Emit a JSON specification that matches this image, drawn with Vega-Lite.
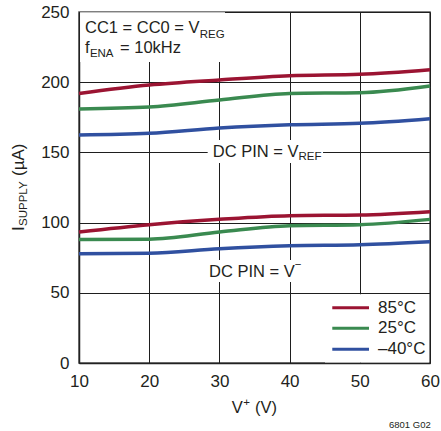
{
  "$schema": "https://vega.github.io/schema/vega-lite/v6.json",
  "width": 351,
  "height": 351,
  "autosize": {"type": "none"},
  "padding": {"left": 79, "top": 12, "right": 11, "bottom": 68},
  "background": "white",
  "config": {
    "view": {"stroke": "#555", "strokeWidth": 1.5},
    "font": "Liberation Sans",
    "axis": {
      "grid": true, "gridColor": "#1e1e1e", "gridWidth": 1, "gridOpacity": 1,
      "domain": true, "domainColor": "#222", "domainWidth": 1.5,
      "ticks": false, "labelFont": "Liberation Sans", "labelFontSize": 17,
      "labelColor": "#231f20", "labelFlush": false, "title": null
    },
    "text": {"font": "Liberation Sans", "color": "#231f20"}
  },
  "datasets": {
    "curves": [
      {"v": 10, "i": 192.0, "temp": "85°C", "pin": "REF"},
      {"v": 20, "i": 198.0, "temp": "85°C", "pin": "REF"},
      {"v": 30, "i": 201.6, "temp": "85°C", "pin": "REF"},
      {"v": 40, "i": 204.6, "temp": "85°C", "pin": "REF"},
      {"v": 50, "i": 205.6, "temp": "85°C", "pin": "REF"},
      {"v": 60, "i": 208.9, "temp": "85°C", "pin": "REF"},
      {"v": 10, "i": 181.0, "temp": "25°C", "pin": "REF"},
      {"v": 20, "i": 182.3, "temp": "25°C", "pin": "REF"},
      {"v": 30, "i": 187.3, "temp": "25°C", "pin": "REF"},
      {"v": 40, "i": 192.0, "temp": "25°C", "pin": "REF"},
      {"v": 50, "i": 192.5, "temp": "25°C", "pin": "REF"},
      {"v": 60, "i": 197.3, "temp": "25°C", "pin": "REF"},
      {"v": 10, "i": 162.4, "temp": "–40°C", "pin": "REF"},
      {"v": 20, "i": 163.6, "temp": "–40°C", "pin": "REF"},
      {"v": 30, "i": 167.4, "temp": "–40°C", "pin": "REF"},
      {"v": 40, "i": 169.7, "temp": "–40°C", "pin": "REF"},
      {"v": 50, "i": 170.7, "temp": "–40°C", "pin": "REF"},
      {"v": 60, "i": 174.0, "temp": "–40°C", "pin": "REF"},
      {"v": 10, "i": 93.3, "temp": "85°C", "pin": "VM"},
      {"v": 20, "i": 98.5, "temp": "85°C", "pin": "VM"},
      {"v": 30, "i": 102.3, "temp": "85°C", "pin": "VM"},
      {"v": 40, "i": 104.9, "temp": "85°C", "pin": "VM"},
      {"v": 50, "i": 105.4, "temp": "85°C", "pin": "VM"},
      {"v": 60, "i": 107.8, "temp": "85°C", "pin": "VM"},
      {"v": 10, "i": 88.0, "temp": "25°C", "pin": "VM"},
      {"v": 20, "i": 88.2, "temp": "25°C", "pin": "VM"},
      {"v": 30, "i": 93.3, "temp": "25°C", "pin": "VM"},
      {"v": 40, "i": 97.8, "temp": "25°C", "pin": "VM"},
      {"v": 50, "i": 98.5, "temp": "25°C", "pin": "VM"},
      {"v": 60, "i": 102.3, "temp": "25°C", "pin": "VM"},
      {"v": 10, "i": 77.8, "temp": "–40°C", "pin": "VM"},
      {"v": 20, "i": 78.1, "temp": "–40°C", "pin": "VM"},
      {"v": 30, "i": 81.4, "temp": "–40°C", "pin": "VM"},
      {"v": 40, "i": 83.5, "temp": "–40°C", "pin": "VM"},
      {"v": 50, "i": 84.2, "temp": "–40°C", "pin": "VM"},
      {"v": 60, "i": 86.3, "temp": "–40°C", "pin": "VM"}
    ],
    "boxes": [
      {"x": 10.15, "x2": 30.8, "y": 214.4, "y2": 249.8},
      {"x": 28.33, "x2": 44.76, "y": 142.45, "y2": 158.8},
      {"x": 27.95, "x2": 42.19, "y": 57.7, "y2": 73.4},
      {"x": 45.04, "x2": 59.85, "y": 0.4, "y2": 48.9}
    ],
    "legend": [
      {"temp": "85°C", "y": 39.4},
      {"temp": "25°C", "y": 24.7},
      {"temp": "–40°C", "y": 9.76}
    ],
    "mainText": [
      {"x": 10.85, "y": 234.8, "t": "CC1 = CC0 = V"},
      {"x": 10.85, "y": 220.6, "t": "f"},
      {"x": 15.84, "y": 220.6, "t": "= 10kHz"},
      {"x": 29.05, "y": 146.9, "t": "DC PIN = V"},
      {"x": 28.52, "y": 61.5, "t": "DC PIN = V"},
      {"x": 31.75, "y": -35.8, "t": "V"},
      {"x": 35.07, "y": -35.8, "t": "(V)"}
    ],
    "subText": [
      {"x": 27.2, "y": 231.8, "t": "REG"},
      {"x": 11.55, "y": 217.6, "t": "ENA"},
      {"x": 41.27, "y": 144.6, "t": "REF"},
      {"x": 33.4, "y": -30.4, "t": "+"},
      {"x": 40.75, "y": 67.7, "t": "−"}
    ],
    "rotMain": [
      {"x": 2.17, "y": 94.0, "t": "I"},
      {"x": 2.17, "y": 133.2, "t": "(µA)"}
    ],
    "rotSub": [
      {"x": 2.66, "y": 97.6, "t": "SUPPLY"}
    ],
    "foot": [
      {"x": 60.1, "y": -46.6, "t": "6801 G02"}
    ]
  },
  "layer": [
    {
      "data": {"name": "boxes"},
      "mark": {"type": "rect", "fill": "white", "stroke": null},
      "encoding": {
        "x": {"field": "x", "type": "quantitative", "scale": {"domain": [10, 60], "nice": false, "zero": false},
              "axis": {"values": [10, 20, 30, 40, 50, 60], "labelPadding": 10}},
        "x2": {"field": "x2"},
        "y": {"field": "y", "type": "quantitative", "scale": {"domain": [0, 250], "nice": false, "zero": false},
              "axis": {"values": [0, 50, 100, 150, 200, 250], "labelPadding": 10}},
        "y2": {"field": "y2"}
      }
    },
    {
      "data": {"name": "curves"},
      "mark": {"type": "line", "interpolate": "monotone", "strokeWidth": 3.5},
      "encoding": {
        "x": {"field": "v", "type": "quantitative"},
        "y": {"field": "i", "type": "quantitative"},
        "color": {"field": "temp", "type": "nominal",
                  "scale": {"domain": ["85°C", "25°C", "–40°C"], "range": ["#9b1432", "#3a8a50", "#3050a0"]},
                  "legend": null},
        "detail": {"field": "pin"}
      }
    },
    {
      "data": {"name": "legend"},
      "mark": {"type": "rule", "strokeWidth": 3},
      "encoding": {
        "x": {"datum": 46.08},
        "x2": {"datum": 51.31},
        "y": {"field": "y", "type": "quantitative"},
        "color": {"field": "temp", "type": "nominal"}
      }
    },
    {
      "data": {"name": "legend"},
      "mark": {"type": "text", "fontSize": 17, "align": "left", "baseline": "middle"},
      "encoding": {
        "x": {"datum": 52.59},
        "y": {"field": "y", "type": "quantitative"},
        "text": {"field": "temp"}
      }
    },
    {
      "data": {"name": "mainText"},
      "mark": {"type": "text", "fontSize": 16.5, "align": "left", "baseline": "alphabetic"},
      "encoding": {
        "x": {"field": "x", "type": "quantitative"},
        "y": {"field": "y", "type": "quantitative"},
        "text": {"field": "t"}
      }
    },
    {
      "data": {"name": "subText"},
      "mark": {"type": "text", "fontSize": 11.5, "align": "left", "baseline": "alphabetic"},
      "encoding": {
        "x": {"field": "x", "type": "quantitative"},
        "y": {"field": "y", "type": "quantitative"},
        "text": {"field": "t"}
      }
    },
    {
      "data": {"name": "rotMain"},
      "mark": {"type": "text", "fontSize": 17, "align": "left", "baseline": "alphabetic", "angle": 270},
      "encoding": {
        "x": {"field": "x", "type": "quantitative"},
        "y": {"field": "y", "type": "quantitative"},
        "text": {"field": "t"}
      }
    },
    {
      "data": {"name": "rotSub"},
      "mark": {"type": "text", "fontSize": 11.5, "align": "left", "baseline": "alphabetic", "angle": 270},
      "encoding": {
        "x": {"field": "x", "type": "quantitative"},
        "y": {"field": "y", "type": "quantitative"},
        "text": {"field": "t"}
      }
    },
    {
      "data": {"name": "foot"},
      "mark": {"type": "text", "fontSize": 9.5, "align": "right", "baseline": "alphabetic"},
      "encoding": {
        "x": {"field": "x", "type": "quantitative"},
        "y": {"field": "y", "type": "quantitative"},
        "text": {"field": "t"}
      }
    }
  ]
}
